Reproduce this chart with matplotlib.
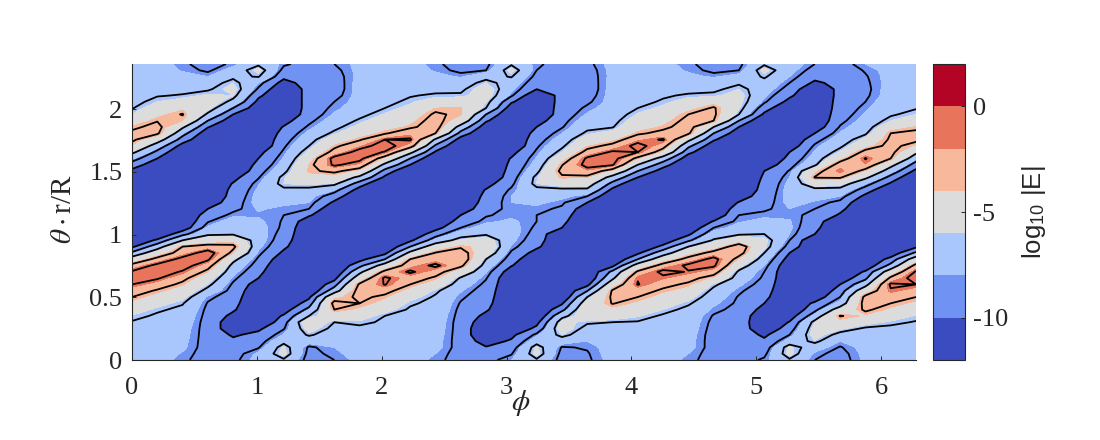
import numpy as np
import matplotlib
matplotlib.use("Agg")
import matplotlib.pyplot as plt

D = -11.5  # floor of the dark troughs

# log10|E|: one list per phi column, theta rising (48 rows)
col_00 = [-7.5,-7.3,-7.2,-7.1,-6.9,-6.8,-6.6,-6.1,-5.2,-4.3,-3.5,-2.6,-1.5,-.6,-1.3,-2.9,-5.3,-8.2,-10.3,D]+[D]*10+[-10.4,-9.2,-7.8,-6.1,-4.2,-3.1,-3.1,-3.9,-5,-6,-6.6,-7,-7.3,-7.4,-7.4,-7.5,-7.5,-7.5]
col_01 = [-7.5,-7.4,-7.4,-7.3,-7.2,-7.1,-6.9,-6.7,-6.3,-5.5,-4.6,-3.7,-2.6,-1.3,-.5,-1.0,-2.9,-5,-7.5,-9.7]+[D]*11+[-11,-10,-8.9,-7.5,-5.5,-3.2,-2.9,-3.6,-4.4,-5.2,-6,-6.6,-7,-7.3,-7.4,-7.5,-7.5]
col_02 = [-8.3,-8.1,-7.8,-7.7,-7.6,-7.5,-7.3,-7.1,-6.8,-6.4,-5.6,-4.8,-3.9,-3,-1.7,-.6,-.9,-2.6,-3.5,-6.5,-9,-11]+[D]*12+[-10.6,-9.2,-7.9,-6.2,-4,-3.4,-4.3,-5.4,-6.4,-6.9,-7.3,-7.6,-8.1,-8.3]
col_03 = [-9,-9,-9,-9,-9,-9,-9,-8.9,-8.8,-8.6,-8.2,-7,-6.1,-5.2,-4,-2.8,-1.2,-.6,-2.8,-5,-6.8,-7.8,-8.6,-9.3,-10,-11]+[D]*10+[-11,-9.9,-8.5,-6.8,-5.6,-5,-5.8,-6.7,-7.2,-8,-8.7,-9]
col_04 = [-8.8,-9,-9.2,-9.7,-10.2,-11,-11,-10.4,-9.8,-9.5,-9.2,-9,-8.7,-8.2,-7.6,-7,-6,-4,-3.1,-4.5,-6.7,-7,-7.4,-8.2,-8.8,-9.1,-9.4,-9.6,-9.9,-10.5]+[D]*8+[-11,-10,-8.5,-7,-6,-5.5,-6,-6.8,-7.5,-8.3]
col_05 = [-7.6,-7.8,-8.6,-9.1,-9.6,-10.3,D,D,D,D,D,-11.2,-10.8,-10,-9.6,-9.1,-8.7,-8.2,-7.7,-7.4,-7.4,-7.6,-7.8,-8.1,-7.9,-7.6,-7.6,-7.8,-8.1,-8.6,-9.1,-9.6,-10,-10.5]+[D]*6+[-11,-10.4,-9.7,-8.7,-8,-6.4,-5.6,-6.8]
col_06 = [-6.7,-5.6,-5.8,-7,-7.9,-8.6,-9.1,-9.8,-10.8,D]+[D]*6+[-11,-10.3,-9.7,-9.3,-9,-8.7,-8.6,-8.5,-8.2,-7.8,-7.4,-6.8,-6,-6.1,-6.9,-7.5,-7.9,-8.3,-8.7,-9.1,-9.5,-9.9,-10.6]+[D]*5+[-10.6,-9.6,-8.9,-8.3]
col_07 = [-9,-8.9,-8.7,-7.5,-6.3,-5.4,-4.6,-6.5,-8,-9.3,-10.3]+[D]*11+[-11,-9.8,-8.5,-8,-7.6,-6.9,-5.8,-4.5,-3.8,-4,-4.8,-5.7,-6.5,-7.1,-7.7,-8.3,-8.8,-9.2,-9.4,-9.4,-9.4,-9.4,-9.3,-9.2,-9.1,-9]
col_08 = [-8.5,-8.2,-8,-7.7,-7.3,-6.9,-6.5,-5,-3.5,-2.9,-4.5,-7.5,-9.2,-10.5]+[D]*11+[-10.3,-9.2,-8,-6.1,-4.7,-3.1,-1.2,-.9,-2.9,-3.9,-5,-6.2,-6.9,-7.4,-7.9,-8.2,-8.5,-8.9,-9.1,-9.1,-9,-8.8,-8.5]
col_09 = [-7.7,-7.6,-7.5,-7.4,-7.2,-6.8,-6.2,-5.2,-4.3,-3.5,-3.1,-2.7,-3.2,-5.2,-7,-9,-10.5]+[D]*10+[-10.6,-9.3,-7,-4.5,-2.3,-1,-.8,-2.2,-3.7,-4.7,-5.6,-6.3,-6.9,-7.5,-7.6,-7.6,-7.6,-7.6,-7.7,-7.7,-7.7]
col_10 = [-7.6,-7.5,-7.4,-7.3,-7.1,-6.9,-6.7,-6.5,-5.5,-4.5,-3.9,-2.9,-1.4,-1.2,-3,-5.5,-8.5,-10.4]+[D]*11+[-10.3,-9.1,-7,-4.5,-1.6,-.7,-1.5,-3.7,-4.5,-5.2,-5.9,-6.5,-6.9,-7.3,-7.5,-7.6,-7.6,-7.6,-7.6]
col_11 = [-7.6,-7.6,-7.5,-7.4,-7.3,-7.2,-7,-6.9,-6.7,-6.3,-5.5,-4.6,-3.5,-2.6,-1.2,-2.5,-3.5,-6,-8.5,-10.3]+[D]*11+[-10,-8.5,-6,-2.6,-1.3,-2.3,-3.8,-4.4,-5,-5.6,-6.2,-6.6,-7,-7.5,-7.5,-7.6,-7.6]
col_12 = [-8.2,-8,-7.6,-7.6,-7.5,-7.4,-7.3,-7.2,-7,-6.9,-6.7,-6.2,-5,-3.8,-2.7,-1.1,-2.6,-3.4,-5.2,-7.7,-9.1,-10.6]+[D]*11+[-10.2,-8.8,-6.8,-3.5,-2.7,-2.8,-3.2,-4,-5.2,-6.3,-6.9,-7.4,-7.7,-8.1,-8.3]
col_13 = [-9,-9,-9,-9,-9,-9,-9,-8.9,-8.8,-8.6,-8.3,-7.9,-7.3,-6.7,-5,-3.1,-2.2,-2.8,-3.7,-5.8,-7.3,-8.5,-9.3,-10,-11]+[D]*10+[-10.7,-9.1,-7.3,-5,-3.9,-3.9,-5,-6.3,-6.8,-7.3,-8.1,-8.8,-9]
col_14 = [-8.9,-9.4,-9.9,-10.7,D,D,-11,-10.4,-9.8,-9.5,-9.3,-9.1,-8.8,-8.4,-7.9,-7.2,-6.5,-5.2,-4.5,-5.2,-6.7,-7.4,-8.2,-8.6,-9,-9.3,-9.6,-9.9,-10.6]+[D]*8+[-10.9,-9.8,-8.5,-6.5,-5.9,-5.3,-5.2,-6,-7,-8.5,-8.8]
col_15 = [-8,-8.6,-9.2,-9.8,-10.4]+[D]*9+[-10.9,-9.9,-9.2,-8.7,-8.1,-7.7,-7.5,-7.6,-7.8,-8.2,-8.2,-8,-8,-8.3,-8.8,-9.2,-9.5,-9.7,-9.9,-10.5]+[D]*6+[-10.9,-9.8,-8.3,-7.7,-7.2,-6.4,-5.6,-6.7]
col_16 = [-6.7,-5.6,-5.8,-7.2,-8.2,-9.6,-10.5,D,D,D]+[D]*7+[-10.6,-9.7,-9.3,-9,-8.7,-8.5,-8.5,-8.2,-7.8,-7.4,-6.9,-6,-6.1,-6.9,-7.5,-7.9,-8.3,-8.7,-9.1,-9.5,-10,-10.7]+[D]*4+[-10,-9.4,-8.9,-8.5,-8.3]
col_17 = [-9,-8.9,-8.6,-7.4,-6,-5.2,-5.6,-7,-9,-10.2]+[D]*11+[-10,-9.6,-9.1,-8.7,-8.3,-7.7,-6.8,-5.4,-3.8,-3,-3.6,-4.8,-6,-6.8,-7.4,-8,-8.6,-8.9,-9.2,-9.3,-9.4,-9.4,-9.5,-9.4,-9.3,-9.1,-9]
col_18 = [-8.7,-8.6,-8.4,-8,-7.5,-7,-6.3,-5,-4.5,-5.3,-6.5,-8.6,-10.5]+[D]*11+[-11,-10,-8.5,-6.8,-5.5,-4,-2.2,-.9,-1.2,-2.9,-4.1,-5.1,-6.2,-6.9,-7.4,-7.9,-8.3,-8.7,-9,-9.2,-9.2,-9.1,-9,-8.8]
col_19 = [-7.6,-7.5,-7.5,-7.4,-7.2,-6.9,-6.5,-5.2,-4.4,-3.4,-3.2,-3.3,-5,-6.9,-8.1,-10.4]+[D]*11+[-10.4,-9,-7.3,-4.5,-1.3,-.8,-1.2,-3,-4.4,-5.5,-6.6,-7,-7.3,-7.5,-7.6,-7.6,-7.6,-7.6,-7.7,-7.7,-7.6]
col_20 = [-7.6,-7.5,-7.4,-7.3,-7.2,-7,-6.6,-5.9,-5.1,-4.3,-3.5,-2.7,-1.4,-1.6,-3.2,-5.5,-8.5,-10.3]+[D]*11+[-10,-8.5,-6.5,-4,-1.5,-.8,-2.3,-3.8,-4.5,-5.2,-5.9,-6.5,-7,-7.5,-7.5,-7.6,-7.6,-7.6,-7.6]
col_21 = [-7.6,-7.6,-7.5,-7.4,-7.3,-7.2,-7,-6.7,-6,-5.3,-4.6,-3.8,-3,-1.9,-1,-2.8,-5,-7.5,-9.6,-11]+[D]*10+[-10.7,-9.4,-7.5,-4.5,-2.8,-1.3,-3,-3.9,-4.5,-5.1,-5.7,-6.3,-6.7,-7.1,-7.5,-7.6,-7.6,-7.7]
col_22 = [-8.2,-8,-7.6,-7.6,-7.5,-7.4,-7.3,-7.2,-6.9,-6.3,-5.5,-4.6,-3.8,-2.9,-1.6,-1.1,-2.9,-4.6,-6.5,-8.8,-10.3,-11.4]+[D]*10+[-10.9,-9.6,-8.1,-6,-3.2,-2.7,-3,-3.5,-4.5,-5.4,-6.3,-7,-7.4,-7.8,-8.1,-8.3]
col_23 = [-9,-9,-9,-9,-9,-8.9,-8.8,-8.6,-8.2,-7.8,-7.4,-6.9,-6.2,-4.3,-2.7,-1.2,-.9,-2.9,-4.9,-6.3,-7.4,-8.5,-9.9,-11.3]+[D]*10+[-11,-9.8,-8.5,-6.5,-3.5,-3.2,-3.3,-4.5,-6.2,-6.8,-7.3,-8.1,-8.8,-9]
col_24 = [-9.1,-9.1,-9.1,-9,-9,-9,-9,-9,-8.9,-8.7,-8.6,-8.3,-7.8,-7.3,-6.8,-5.6,-4.2,-2.8,-2.5,-4.9,-6.7,-7.5,-8.1,-8.5,-9.2,-9.9,-10.8]+[D]*9+[-10.9,-10,-8.5,-6.5,-5.9,-5.6,-5.5,-6,-6.7,-7.6,-8.5,-8.8]
col_25 = [-8.3,-8.8,-9.3,-9.7,-10.3,-11.3,D,-11.2,-10.5,-10,-9.6,-9.3,-9,-8.7,-8.5,-8,-7.3,-6.5,-5.7,-5.6,-6.5,-7.3,-7.7,-8.2,-8.7,-9,-9.2,-9.4,-9.6,-9.8,-10,-11]+[D]*7+[-10.3,-9.3,-8.3,-7.8,-7.4,-7,-6.3,-5.6,-6.7]
col_26 = [-6.7,-5.6,-5.7,-7.5,-8.5,-9.2,-9.9,-10.8,D,D]+[D]*5+[-11.3,-10.7,-10,-9.1,-8.5,-8,-7.8,-7.9,-8.2,-8,-7.7,-7.6,-7.6,-7.7,-8,-8.4,-9,-9.6,-10,-11]+[D]*6+[-10.5,-9.7,-9,-8.5,-8,-7.6,-7.4]
col_27 = [-8.5,-8.2,-7.4,-6.1,-5.4,-5.6,-6,-7.6,-8.9,-9.7,-11]+[D]*9+[-10,-9.6,-9.2,-8.8,-8.5,-8.1,-7.7,-7,-5.2,-3.4,-4.4,-6.8,-7.4,-7.9,-8.3,-9,-10,-11]+[D]*6+[-10.3,-9.5,-9,-8.5]
col_28 = [-9,-8.9,-8.6,-8,-7,-5.8,-4.5,-3.4,-5.5,-7.6,-8.5,-9.3,-10,-11]+[D]*9+[-10.2,-9.6,-8.8,-8,-7,-5.6,-3.3,-1.6,-2.5,-4.5,-5.9,-6.8,-7.3,-7.9,-8.4,-8.8,-9.1,-9.3,-9.4,-9.5,-9.5,-9.5,-9.4,-9.2,-9]
col_29 = [-7.8,-7.7,-7.6,-7.5,-7.2,-6.7,-5.5,-4.2,-3.2,-2.8,-3,-5,-7.2,-8.9,-9.8,-11.2]+[D]*10+[-10.4,-9.2,-7.9,-6.1,-4.2,-2.1,-1.4,-2.9,-4.5,-5.7,-6.7,-7.2,-7.6,-7.9,-8.2,-8.5,-8.7,-8.8,-8.7,-8.6,-8.4,-8]
col_30 = [-7.7,-7.6,-7.5,-7.4,-7.1,-6.8,-6.2,-5.1,-4.3,-3.5,-2.8,-1.7,-1.2,-3.1,-5.3,-8,-9.5,-11]+[D]*10+[-10.2,-9,-7.5,-5.9,-3.5,-3,-3,-3.2,-3.5,-4.8,-6,-6.7,-6.9,-7.2,-7.5,-7.5,-7.6,-7.6,-7.6,-7.6]
col_31 = list(col_00)

columns = [col_00, col_01, col_02, col_03, col_04, col_05, col_06, col_07,
           col_08, col_09, col_10, col_11, col_12, col_13, col_14, col_15,
           col_16, col_17, col_18, col_19, col_20, col_21, col_22, col_23,
           col_24, col_25, col_26, col_27, col_28, col_29, col_30, col_31]

fill_levels = [-12, -10, -8, -6, -4, -2, 0, 2]
line_levels = [-10, -8.5, -6.5, -3.5, -1.5]
x_ticks = [0, 1, 2, 3, 4, 5, 6]
y_ticks = [0, 0.5, 1, 1.5, 2]
y_tick_labels = ['0', '0.5', '1', '1.5', '2']
cbar_ticks = [-10, -5, 0]
cbar_tick_labels = ['-10', '-5', '0']

plt.rcParams['font.family'] = ['Liberation Serif', 'DejaVu Serif']
plt.rcParams['mathtext.fontset'] = 'stix'
ink = '#262626'

Z = np.array(columns).T
phi = np.linspace(0, 6.28, Z.shape[1])
theta = np.linspace(0, 2.36, Z.shape[0])

fig = plt.figure(figsize=(11, 4.4), dpi=100)
ax = fig.add_axes([132/1100, 80/440, 784/1100, 296/440])
colors = plt.cm.coolwarm(np.linspace(0, 1, 7))
cf = ax.contourf(phi, theta, Z, levels=fill_levels, colors=colors)
ax.contour(phi, theta, Z, levels=line_levels, colors='black', linewidths=1.3, linestyles='solid')

ax.set_xlim(0, 6.28)
ax.set_ylim(0, 2.36)
ax.set_xticks(x_ticks)
ax.set_yticks(y_ticks)
ax.set_yticklabels(y_tick_labels)
ax.tick_params(direction='in', length=3, width=0.7, color=ink, labelcolor=ink, labelsize=19, pad=7)
ax.tick_params(axis='x', pad=12)
for s in ('top', 'right'):
    ax.spines[s].set_visible(False)
for s in ('left', 'bottom'):
    ax.spines[s].set_color(ink)
    ax.spines[s].set_linewidth(0.8)
ax.set_axisbelow(False)

fig.text(521/1100, 1-403/440, r'$\phi$', fontsize=21, color=ink, ha='center', va='center')
fig.text(64/1100, 1-209/440, r'$\theta\cdot$r/R', fontsize=21, color=ink, rotation=90, ha='center', va='center')

cax = fig.add_axes([933/1100, 80/440, 32/1100, 296/440])
cb = fig.colorbar(cf, cax=cax, ticks=cbar_ticks)
cb.ax.set_yticklabels(cbar_tick_labels)
cb.ax.tick_params(direction='in', length=3, width=0.7, color=ink, labelcolor=ink, labelsize=19, pad=6)
cb.outline.set_edgecolor(ink)
cb.outline.set_linewidth(0.8)
cb.ax.minorticks_off()
fig.text(1034/1100, 1-212/440, r'log$_{\mathregular{10}}$ |E|', fontsize=18.5, color=ink, rotation=90,
         ha='center', va='center', family='Liberation Sans')

fig.savefig('out.png', dpi=100)
